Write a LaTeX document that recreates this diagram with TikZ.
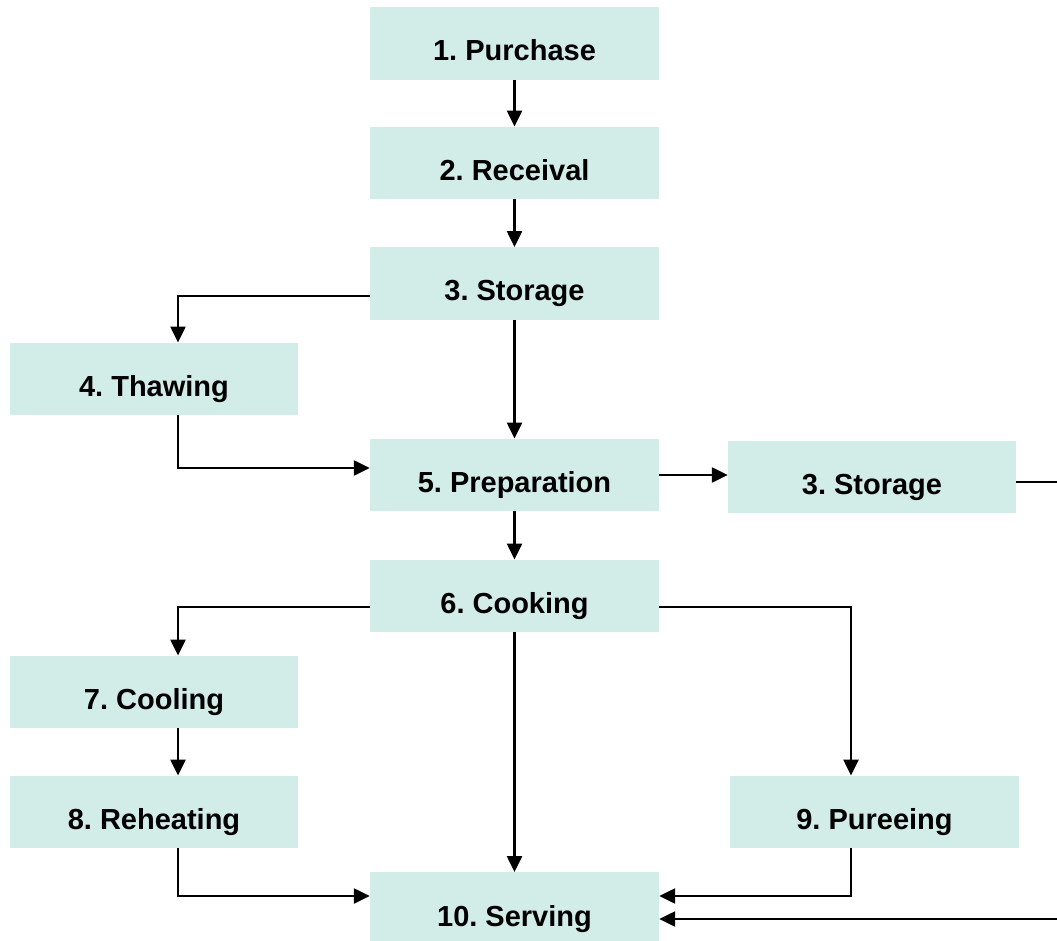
\documentclass[tikz,border=0pt]{standalone}
\usepackage{fontspec}
\setmainfont{Liberation Sans}
\usetikzlibrary{arrows.meta,calc}
\definecolor{boxfill}{HTML}{D2ECE7}
\tikzset{
  stepbox/.style={fill=boxfill, draw=none, rectangle, inner sep=0pt,
    minimum height=72.5pt, text height=35pt, text depth=0pt,
    font=\fontsize{29}{34}\selectfont\bfseries},
  wide/.style={minimum width=289pt},
  arr/.style={line width=2.4pt, -{Triangle[length=16pt,width=15pt]}},
  ln/.style={line width=2.4pt}
}
\begin{document}
\frenchspacing
\begin{tikzpicture}[x=1pt,y=-1pt]
\useasboundingbox (0,0) rectangle (1057,941);
% central column
\node[stepbox,wide] (purch) at (514.5,43.5) {1. Purchase};
\node[stepbox,wide] (recv) at (514.5,163) {2. Receival};
\node[stepbox,wide] (stor) at (514.5,283.5) {3. Storage};
\node[stepbox,wide] (prep) at (514.5,475) {5. Preparation};
\node[stepbox,wide] (cook) at (514.5,596) {6. Cooking};
\node[stepbox,wide] (serv) at (514.5,908.5) {10. Serving};
% left column
\node[stepbox,minimum width=288pt] (thaw) at (154,379) {4. Thawing};
\node[stepbox,minimum width=288pt] (cool) at (154,692) {7. Cooling};
\node[stepbox,minimum width=288pt] (reh) at (154,812) {8. Reheating};
% right column
\node[stepbox,minimum width=288pt] (stor2) at (872,477) {3. Storage};
\node[stepbox,wide] (pure) at (874.5,812) {9. Pureeing};
% bend points and free ends
\coordinate (b1) at (178,296);
\coordinate (b2) at (178,468);
\coordinate (b3) at (178,607);
\coordinate (b4) at (851,607);
\coordinate (b5) at (178,896);
\coordinate (b6) at (851,896);
\coordinate (e1) at (1057,482);
\coordinate (e2) at (1057,919);
% connectors
\draw[arr] (purch.south) -- (recv.north);
\draw[arr] (recv.south) -- (stor.north);
\draw[arr] (stor.south) -- (prep.north);
\draw[arr] (prep.south) -- (cook.north);
\draw[arr] (cook.south) -- (serv.north);
\draw[arr] (stor.west |- b1) -- (b1) -- (b1 |- thaw.north);
\draw[arr] (b1 |- thaw.south) -- (b2) -- (prep.west |- b2);
\draw[arr] (prep.east) -- (stor2.west |- prep.east);
\draw[ln] (stor2.east |- e1) -- (e1);
\draw[arr] (cook.west |- b3) -- (b3) -- (b3 |- cool.north);
\draw[arr] (b3 |- cool.south) -- (b3 |- reh.north);
\draw[arr] (cook.east |- b4) -- (b4) -- (b4 |- pure.north);
\draw[arr] (b5 |- reh.south) -- (b5) -- (serv.west |- b5);
\draw[arr] (b6 |- pure.south) -- (b6) -- (serv.east |- b6);
\draw[arr] (e2) -- (serv.east |- e2);
\end{tikzpicture}
\end{document}
